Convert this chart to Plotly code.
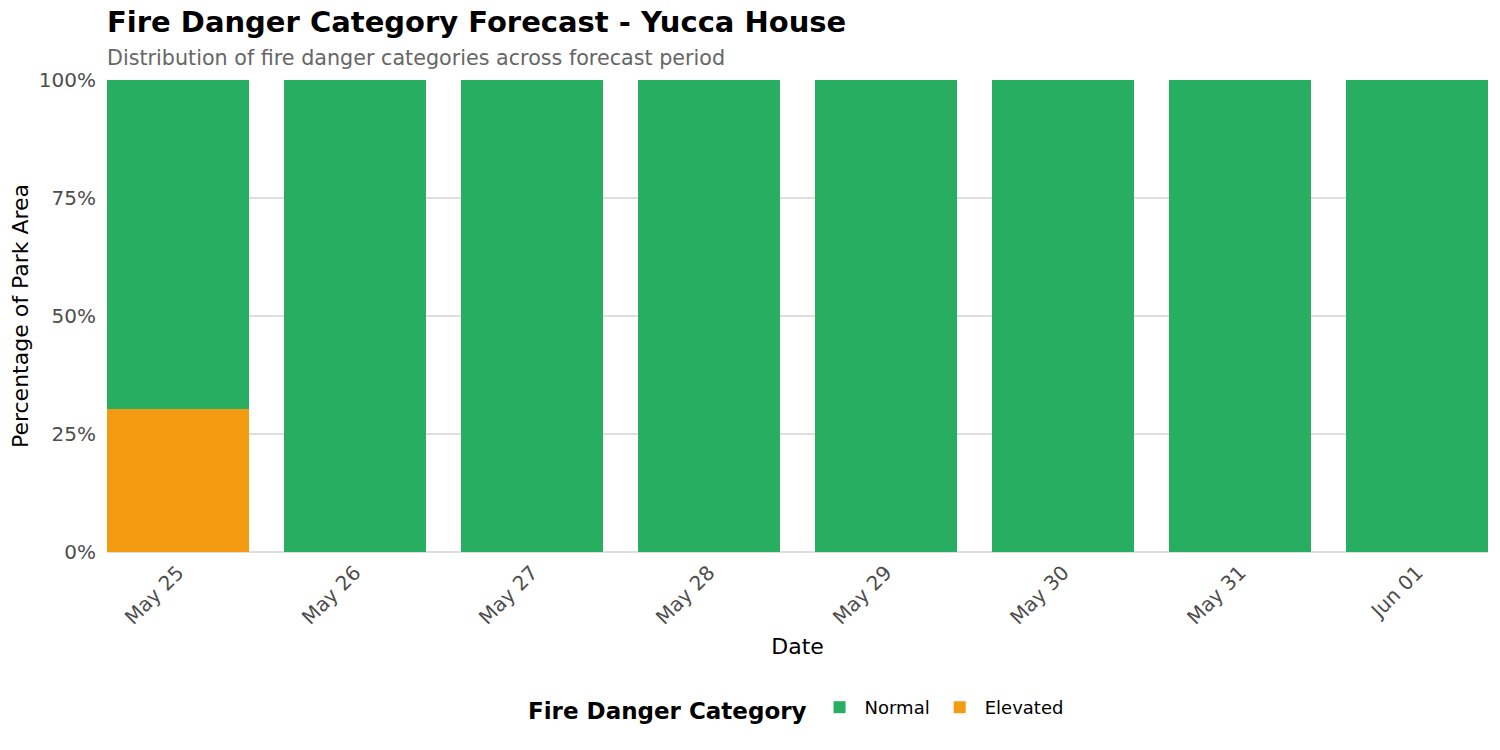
import plotly.graph_objects as go

dates = ["May 25", "May 26", "May 27", "May 28", "May 29", "May 30", "May 31", "Jun 01"]
elevated = [30.3, 0, 0, 0, 0, 0, 0, 0]
normal = [69.7, 100, 100, 100, 100, 100, 100, 100]

fig = go.Figure()
fig.add_trace(go.Bar(x=dates, y=elevated, name="Elevated", marker_color="#F39C12",
                     marker_line_width=0))
fig.add_trace(go.Bar(x=dates, y=normal, name="Normal", marker_color="#27AE60",
                     marker_line_width=0))

# page has an 8px body margin, so the figure is sized/offset to fit the window
fig.update_layout(
    barmode="stack",
    bargap=0.2,
    width=1492,
    height=742,
    paper_bgcolor="white",
    plot_bgcolor="white",
    font=dict(family="DejaVu Sans", color="black"),
    margin=dict(l=99, r=12, t=72, b=198),
    annotations=[
        dict(
            text="<b>Fire Danger Category Forecast - Yucca House</b>",
            x=0, xref="paper", xanchor="left", xshift=-2,
            y=1 + 58 / 472, yref="paper", yanchor="middle",
            showarrow=False,
            font=dict(size=29, color="black"),
        ),
        dict(
            text="Distribution of fire danger categories across forecast period",
            x=0, xref="paper", xanchor="left", xshift=-2,
            y=1 + 22 / 472, yref="paper", yanchor="middle",
            showarrow=False,
            font=dict(size=20.7, color="#666666"),
        ),
    ],
    legend=dict(
        orientation="h",
        x=0.5, xanchor="center",
        y=-157 / 472, yanchor="middle",
        traceorder="reversed",
        title=dict(text="<b>Fire Danger Category</b>", font=dict(size=23)),
        font=dict(size=18),
        itemwidth=40,
    ),
    showlegend=True,
)

fig.update_xaxes(
    title=dict(text="Date", font=dict(size=22), standoff=10),
    tickangle=-45,
    tickfont=dict(size=20, color="#4d4d4d"),
    ticklabelstandoff=4,
    range=[-0.4, 7.4],
    showgrid=False,
    showline=False,
    ticks="",
    automargin=False,
)
fig.update_yaxes(
    title=dict(text="Percentage of Park Area", font=dict(size=22), standoff=8),
    range=[0, 100],
    tickvals=[0, 25, 50, 75, 100],
    ticktext=["0%", "25%", "50%", "75%", "100%"],
    tickfont=dict(size=20, color="#4d4d4d"),
    ticklabelstandoff=10,
    gridcolor="#dedede",
    gridwidth=2,
    zeroline=True,
    zerolinecolor="#dedede",
    showline=False,
    automargin=False,
)

fig.write_html("out.html")
